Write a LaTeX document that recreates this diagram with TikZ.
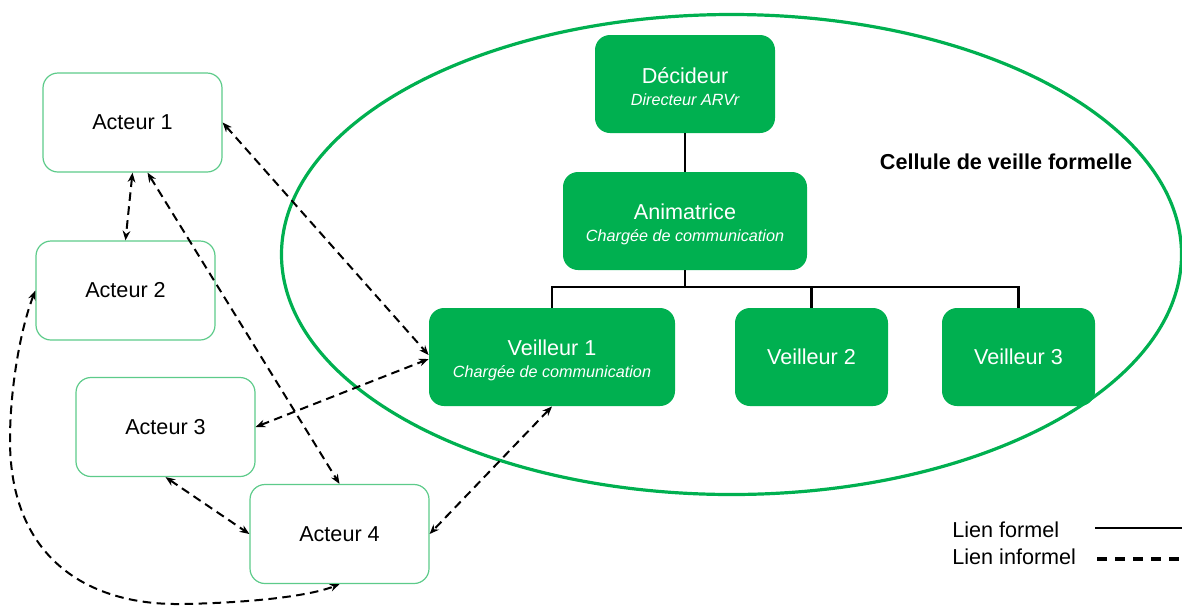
\documentclass[tikz,border=0pt]{standalone}
\usepackage{fontspec}
\setmainfont{Liberation Sans}
\usetikzlibrary{arrows.meta}
\definecolor{vert}{HTML}{00B050}
\definecolor{vertclair}{HTML}{5DCB8A}
\newcommand{\hautligne}{\rule{0pt}{11pt}}
\begin{document}
\begin{tikzpicture}[x=0.5pt,y=-0.5pt,
  acteur/.style={draw=vertclair, line width=0.6pt, rounded corners=7.5pt, fill=white,
    minimum width=89.5pt, minimum height=49.5pt, inner sep=0pt,
    font=\fontsize{10.8}{13}\selectfont},
  role/.style={fill=vert, rounded corners=7.5pt, text=white, minimum height=49pt,
    inner sep=0pt, align=center, font=\fontsize{10.8}{12}\selectfont},
  informel/.style={line width=1pt, dash pattern=on 4.3pt off 2.7pt, <->,
    >={Stealth[length=4.8pt,width=3.8pt]}},
  formel/.style={line width=1.1pt, draw=black},
  legende/.style={anchor=west, inner sep=0pt, font=\fontsize{10.8}{13}\selectfont}]
\useasboundingbox (0,0) rectangle (1182,606);

% cellule
\draw[vert, line width=1.6pt] (731.5,254.5) ellipse [x radius=450, y radius=240];
\node[font=\fontsize{10.8}{13}\selectfont\bfseries] (titre) at (1006,162) {Cellule de veille formelle};

% organigramme
\node[role, minimum width=90pt] (dec) at (685,84)
  {\hautligne Décideur\\[-1pt]{\fontsize{8.1}{10}\selectfont\itshape Directeur ARVr}};
\node[role, minimum width=122pt] (anim) at (685,221)
  {\hautligne Animatrice\\[-1pt]{\fontsize{8.1}{10}\selectfont\itshape Chargée de communication}};
\node[role, minimum width=123pt] (v1) at (552,357)
  {\hautligne Veilleur 1\\[-1pt]{\fontsize{8.1}{10}\selectfont\itshape Chargée de communication}};
\node[role, minimum width=76.5pt] (v2) at (811.5,357) {Veilleur 2};
\node[role, minimum width=76.5pt] (v3) at (1018.5,357) {Veilleur 3};

\coordinate (bar) at (685,287);
\draw[formel] (dec) -- (anim);
\draw[formel] (anim) -- (bar);
\draw[formel] (v1.north) |- (bar) -| (v3.north);
\draw[formel] (v2.north) -- (v2.north |- bar);

% acteurs
\node[acteur] (a1) at (132.5,122.5) {Acteur 1};
\node[acteur] (a2) at (125.5,290.5) {Acteur 2};
\node[acteur] (a3) at (165.5,427) {Acteur 3};
\node[acteur] (a4) at (339.5,534) {Acteur 4};

% liens informels
\draw[informel] (a1.east) -- ([yshift=1pt]v1.west);
\draw[informel] (a1.south) -- (a2.north);
\draw[informel] ([xshift=7.5pt]a1.south) -- (a4.north);
\draw[informel] (a3.east) -- ([yshift=-1pt]v1.west);
\draw[informel] (v1.south) -- (a4.east);
\draw[informel] (a3.south) -- (a4.west);
\draw[informel] (a2.west) .. controls (20,330) and (10,390) .. (10,440)
  .. controls (10,560) and (90,605) .. (180,604)
  .. controls (250,603) and (310,596) .. (a4.south);

% legende
\node[legende] (lf) at (952,530) {Lien formel};
\node[legende] (li) at (952,557) {Lien informel};
\coordinate (lf1) at (1095,528);
\coordinate (lf2) at (1190,528);
\coordinate (li1) at (1097,559);
\coordinate (li2) at (1190,559);
\draw[line width=1.3pt] (lf1) -- (lf2);
\draw[line width=1.6pt, dash pattern=on 5pt off 4pt] (li1) -- (li2);
\end{tikzpicture}
\end{document}
